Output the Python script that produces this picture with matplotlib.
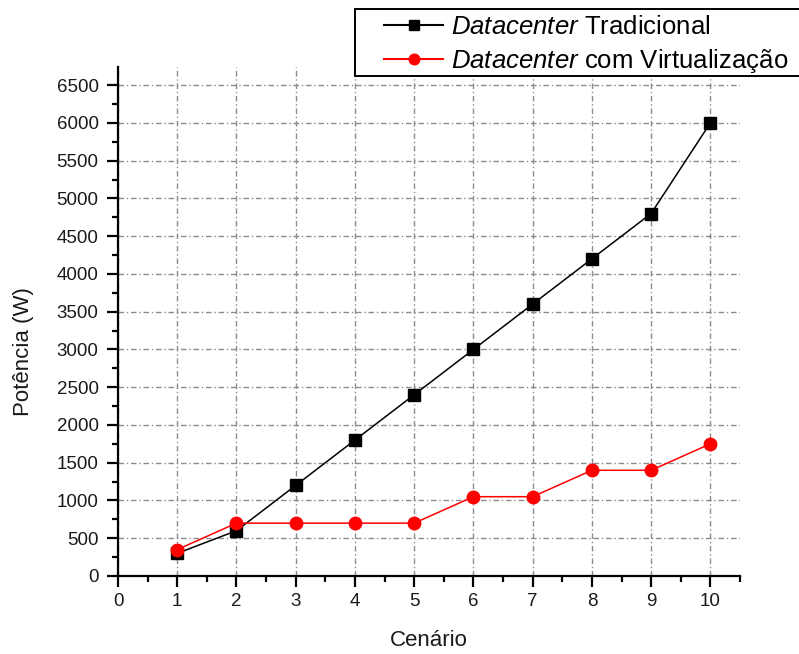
import matplotlib
matplotlib.use("Agg")
import matplotlib.pyplot as plt
from matplotlib.ticker import MultipleLocator
from matplotlib.patches import Rectangle

plt.rcParams['font.family'] = ['Liberation Sans', 'DejaVu Sans']
plt.rcParams['mathtext.fontset'] = 'custom'
plt.rcParams['mathtext.it'] = 'Liberation Sans:italic'
plt.rcParams['mathtext.rm'] = 'Liberation Sans'

cenarios = [1, 2, 3, 4, 5, 6, 7, 8, 9, 10]
tradicional = [300, 600, 1200, 1800, 2400, 3000, 3600, 4200, 4800, 6000]
virtualizacao = [350, 700, 700, 700, 700, 1050, 1050, 1400, 1400, 1750]
lbl_trad = r"$\it{Datacenter}$ Tradicional"
lbl_virt = r"$\it{Datacenter}$ com Virtualização"

W, H = 799, 654
fig = plt.figure(figsize=(W / 100, H / 100), dpi=100)
ax = fig.add_axes([118 / W, 1 - 576 / H, (740 - 118) / W, (576 - 67) / H])

ax.plot(cenarios, tradicional, color='black', marker='s', markersize=8.5, lw=1.1, label=lbl_trad, zorder=3)
ax.plot(cenarios, virtualizacao, color='red', marker='o', markersize=9, lw=1.1, label=lbl_virt, zorder=3)

ax.set_xlim(0, 10.5)
ax.set_ylim(0, 6740)
ax.xaxis.set_major_locator(MultipleLocator(1))
ax.xaxis.set_minor_locator(MultipleLocator(0.5))
ax.yaxis.set_major_locator(MultipleLocator(500))
ax.yaxis.set_minor_locator(MultipleLocator(250))
ax.grid(True, which='major', color='#8c8c8c', linestyle=(0, (4, 2, 1, 2)), lw=1)
ax.set_axisbelow(True)

for s in ['top', 'right']:
    ax.spines[s].set_visible(False)
for s in ['left', 'bottom']:
    ax.spines[s].set_linewidth(1.6)
ax.tick_params(which='major', direction='out', length=8, width=1.6, labelsize=13.5, colors='black')
ax.tick_params(axis='x', which='major', pad=4.5)
ax.tick_params(axis='y', which='major', pad=6)
ax.tick_params(which='minor', direction='out', length=4.5, width=1.6)
for t in ax.get_xticklabels() + ax.get_yticklabels():
    t.set_color('#1a1a1a')

ax.set_xlabel('Cenário', fontsize=16, color='#1a1a1a')
ax.xaxis.set_label_coords(0.5, (576 - 640) / 509)
ax.xaxis.label.set_va('center')
ax.set_ylabel('Potência (W)', fontsize=16, color='#1a1a1a')
ax.yaxis.set_label_coords((24 - 118) / 622, (576 - 352) / 509)
ax.yaxis.label.set_va('center')

# legend frame box
box = Rectangle((355 / W, 1 - 76 / H), (810 - 355) / W, (76 - 9) / H,
                transform=fig.transFigure, fill=True, facecolor='white',
                edgecolor='black', lw=1.4, zorder=6, clip_on=False)
ax.add_patch(box)
leg = ax.legend(loc='upper left', bbox_to_anchor=(384 / W, 1 - 15 / H), bbox_transform=fig.transFigure,
                frameon=False, fontsize=18.5, handlelength=2.3, markerscale=0.85,
                borderaxespad=0, borderpad=0, labelspacing=0.3, handletextpad=0.3)
for line in leg.get_lines():
    line.set_linewidth(1.5)
leg.set_zorder(7)

fig.savefig('out.png', dpi=100)
